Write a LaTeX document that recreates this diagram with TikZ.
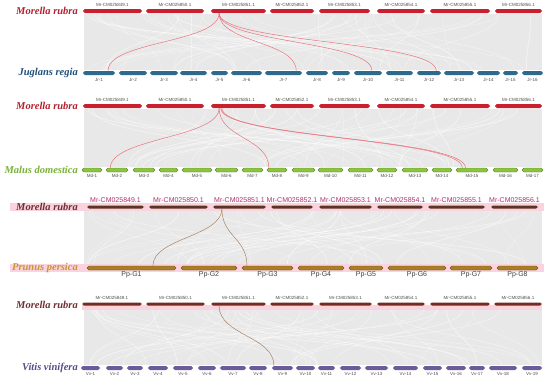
\documentclass[tikz,border=0pt]{standalone}
\usepackage{fontspec}
\setmainfont{Liberation Serif}
\setsansfont{Liberation Sans}
\usetikzlibrary{calc}
\definecolor{mrred}{HTML}{C8202F}
\definecolor{mrtext}{HTML}{B22030}
\definecolor{jrblue}{HTML}{2D6A8E}
\definecolor{jrtext}{HTML}{1F4E79}
\definecolor{mdgreen}{HTML}{8CC43F}
\definecolor{mdtext}{HTML}{7AB03A}
\definecolor{mrbrown}{HTML}{5B3423}
\definecolor{brtext}{HTML}{6E2F2F}
\definecolor{ppochre}{HTML}{A97E24}
\definecolor{pptext}{HTML}{C8962E}
\definecolor{vvpurple}{HTML}{6B5B9B}
\definecolor{vvtext}{HTML}{5A4A8A}
\definecolor{linkred}{HTML}{E8737E}
\definecolor{linkbrown}{HTML}{A88468}
\definecolor{bggray}{HTML}{E8E8E8}
\definecolor{pinkband}{HTML}{FAD3DF}
\definecolor{mrlab}{HTML}{B0306A}

\begin{document}
\begin{tikzpicture}[x=1pt, y=-1pt,
                    chr/.style={rectangle, rounded corners=1.8pt, inner sep=0pt, minimum height=4pt},
                    tiny/.style={font=\sffamily\fontsize{4.5}{5}\selectfont, text=gray!60!black, inner sep=0pt},
                    small/.style={font=\sffamily\fontsize{7}{8}\selectfont, inner sep=0pt},
                    species/.style={anchor=east, inner sep=0pt, font=\bfseries\itshape\fontsize{10.5}{12}\selectfont},
                    streak/.style={white, opacity=0.45},
                    link/.style={line width=0.5pt}]
  \useasboundingbox (0,0) rectangle (550,381);

  % synteny background
  \pgfmathsetseed{11}
  \foreach \ya/\yb in {14/70, 109/167, 210/265, 309/365} {
    \fill[bggray] (84,\ya) rectangle (542,\yb);
    \foreach \i in {1,...,45} {
      \pgfmathsetmacro\xa{86+452*rnd}
      \pgfmathsetmacro\xb{86+452*rnd}
      \pgfmathsetmacro\lw{0.2+0.7*rnd}
      \draw[streak, line width=\lw pt] (\xa,\ya) .. controls (\xa,{(\ya+\yb)/2}) and (\xb,{(\ya+\yb)/2}) .. (\xb,\yb);
    }
  }
  \fill[pinkband] (10,203) rectangle (544,211);
  \fill[pinkband] (10,264) rectangle (544,272);
  \fill[pinkband] (82,305) rectangle (542,310);

  % panel 1
  \node[species, text=mrtext] (sp1a) at (78,11) {Morella rubra};
  \node[species, text=jrtext] (sp1b) at (78,73) {Juglans regia};
  \foreach \n/\a/\b/\t in {1/83/142/Mr-CM025849.1, 2/146/204/Mr-CM025850.1, 3/211/266/Mr-CM025851.1,
                           4/270/314/Mr-CM025852.1, 5/319/370/Mr-CM025853.1, 6/377/425/Mr-CM025854.1,
                           7/430/490/Mr-CM025855.1, 8/495/542/Mr-CM025856.1} {
    \node[chr, fill=mrred, minimum width={(\b-\a)*1pt}] (mra\n) at ({(\a+\b)/2},11) {};
    \node[tiny] (mra\n-lab) at ({(\a+\b)/2},5) {\t};
  }
  \foreach \n/\a/\b in {1/83/115, 2/119/147, 3/150/178, 4/180/207, 5/211/228, 6/231/262, 7/265/302, 8/306/328,
                        9/332/350, 10/354/382, 11/386/413, 12/417/441, 13/444/474, 14/477/500, 15/503/518, 16/522/543} {
    \node[chr, fill=jrblue, minimum width={(\b-\a)*1pt}] (jr\n) at ({(\a+\b)/2},73) {};
    \node[tiny] (jr\n-lab) at ({(\a+\b)/2},80) {Jr-\n};
  }
  \draw[link, linkred] ($(mra3.south west)!0.15!(mra3.south east)$) .. controls +(0,30) and +(0,-30) .. ($(jr1.north west)!0.78!(jr1.north east)$);
  \draw[link, linkred] ($(mra3.south west)!0.15!(mra3.south east)$) .. controls +(0,30) and +(0,-30) .. ($(jr7.north west)!0.84!(jr7.north east)$);
  \draw[link, linkred] ($(mra3.south west)!0.15!(mra3.south east)$) .. controls +(0,30) and +(0,-30) .. ($(jr10.north west)!0.64!(jr10.north east)$);
  \draw[link, linkred] ($(mra3.south west)!0.15!(mra3.south east)$) .. controls +(0,30) and +(0,-30) .. ($(jr12.north west)!0.8!(jr12.north east)$);

  % panel 2
  \node[species, text=mrtext] (sp2a) at (78,106) {Morella rubra};
  \node[species, text=mdtext] (sp2b) at (78,170) {Malus domestica};
  \foreach \n/\a/\b/\t in {1/83/142/Mr-CM025849.1, 2/146/204/Mr-CM025850.1, 3/211/266/Mr-CM025851.1,
                           4/270/314/Mr-CM025852.1, 5/319/370/Mr-CM025853.1, 6/377/425/Mr-CM025854.1,
                           7/430/490/Mr-CM025855.1, 8/495/542/Mr-CM025856.1} {
    \node[chr, fill=mrred, minimum width={(\b-\a)*1pt}] (mrb\n) at ({(\a+\b)/2},106) {};
    \node[tiny] (mrb\n-lab) at ({(\a+\b)/2},100) {\t};
  }
  \foreach \n/\a/\b in {1/82/102, 2/106/128, 3/133/155, 4/159/178, 5/182/212, 6/215/238, 7/242/263, 8/267/287,
                        9/292/315, 10/318/343, 11/348/373, 12/377/397, 13/402/428, 14/432/452, 15/456/488,
                        16/493/518, 17/522/543} {
    \node[chr, fill=mdgreen, draw=mdgreen!60!black, line width=0.3pt, minimum width={(\b-\a)*1pt}] (md\n) at ({(\a+\b)/2},170) {};
    \node[tiny] (md\n-lab) at ({(\a+\b)/2},176) {Md-\n};
  }
  \draw[link, linkred] ($(mrb3.south west)!0.15!(mrb3.south east)$) .. controls +(0,30) and +(0,-30) .. ($(md2.north west)!0.2!(md2.north east)$);
  \draw[link, linkred] ($(mrb3.south west)!0.15!(mrb3.south east)$) .. controls +(0,30) and +(0,-30) .. ($(md8.north west)!0.1!(md8.north east)$);
  \draw[link, linkred] ($(mrb3.south west)!0.18!(mrb3.south east)$) .. controls +(0,30) and +(0,-30) .. ($(md15.north west)!0.2!(md15.north east)$);
  \draw[link, linkred] ($(mrb3.south west)!0.2!(mrb3.south east)$) .. controls +(0,30) and +(0,-30) .. ($(md15.north west)!0.3!(md15.north east)$);

  % panel 3
  \node[species, text=brtext] (sp3a) at (78,207) {Morella rubra};
  \node[species, text=pptext] (sp3b) at (78,268) {Prunus persica};
  \foreach \n/\a/\b/\t in {1/87/144/Mr-CM025849.1, 2/149/208/Mr-CM025850.1, 3/213/266/Mr-CM025851.1,
                           4/271/313/Mr-CM025852.1, 5/319/372/Mr-CM025853.1, 6/377/423/Mr-CM025854.1,
                           7/428/485/Mr-CM025855.1, 8/491/538/Mr-CM025856.1} {
    \node[chr, fill=mrbrown, minimum height=3pt, minimum width={(\b-\a)*1pt}] (mrc\n) at ({(\a+\b)/2},207) {};
    \node[small, text=mrlab] (mrc\n-lab) at ({(\a+\b)/2},200) {\t};
  }
  \foreach \n/\a/\b in {1/87/176, 2/181/237, 3/242/293, 4/298/344, 5/349/383, 6/388/446, 7/450/492, 8/497/538} {
    \node[chr, fill=ppochre, draw=ppochre!60!black, line width=0.3pt, minimum width={(\b-\a)*1pt}] (pp\n) at ({(\a+\b)/2},268) {};
    \node[small, text=black!75] (pp\n-lab) at ({(\a+\b)/2},275) {Pp-G\n};
  }
  \draw[link, linkbrown] ($(mrc3.south west)!0.17!(mrc3.south east)$) .. controls +(0,28) and +(0,-28) .. ($(pp1.north west)!0.74!(pp1.north east)$);
  \draw[link, linkbrown] ($(mrc3.south west)!0.17!(mrc3.south east)$) .. controls +(0,28) and +(0,-28) .. ($(pp3.north west)!0.1!(pp3.north east)$);

  % panel 4
  \node[species, text=brtext] (sp4a) at (78,305) {Morella rubra};
  \node[species, text=vvtext] (sp4b) at (78,368) {Vitis vinifera};
  \foreach \n/\a/\b/\t in {1/82/142/Mr-CM025849.1, 2/146/205/Mr-CM025850.1, 3/211/266/Mr-CM025851.1,
                           4/270/314/Mr-CM025852.1, 5/319/372/Mr-CM025853.1, 6/377/425/Mr-CM025854.1,
                           7/430/490/Mr-CM025855.1, 8/494/542/Mr-CM025856.1} {
    \node[chr, fill=mrbrown!85!red, minimum height=3pt, minimum width={(\b-\a)*1pt}] (mrd\n) at ({(\a+\b)/2},304) {};
    \node[tiny] (mrd\n-lab) at ({(\a+\b)/2},298) {\t};
  }
  \foreach \n/\a/\b in {1/81/100, 2/106/123, 3/127/143, 4/148/168, 5/173/193, 6/198/216, 7/220/246, 8/249/267,
                        9/272/293, 10/296/315, 11/318/335, 12/340/361, 13/365/388, 14/393/418, 15/423/442,
                        16/446/466, 17/469/485, 18/489/517, 19/522/542} {
    \node[chr, fill=vvpurple, minimum width={(\b-\a)*1pt}] (vv\n) at ({(\a+\b)/2},368) {};
    \node[tiny] (vv\n-lab) at ({(\a+\b)/2},374) {Vv-\n};
  }
  \draw[link, linkbrown] ($(mrd3.south west)!0.15!(mrd3.south east)$) .. controls +(0,30) and +(0,-30) .. ($(vv9.north west)!0.1!(vv9.north east)$);
\end{tikzpicture}
\end{document}
